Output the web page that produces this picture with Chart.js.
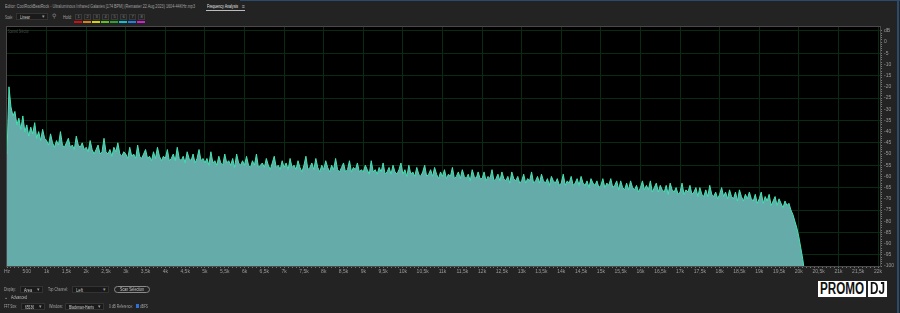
<!DOCTYPE html>
<html><head><meta charset="utf-8">
<script src="https://cdn.jsdelivr.net/npm/chart.js@4"></script>
<style>
html,body{margin:0;padding:0;background:#232323;width:900px;height:313px;overflow:hidden;font-family:"Liberation Sans",Arial,sans-serif;}
#c{position:absolute;left:0;top:0;}
.t{position:absolute;font-size:5px;color:#a0a0a0;white-space:nowrap;line-height:6px;transform-origin:0 50%;display:inline-block;}
.dd{position:absolute;height:7px;background:#1a1a1a;border:1px solid #333;box-sizing:border-box;}
.dd .a{position:absolute;right:2px;top:-1px;color:#999;font-size:5px;line-height:7px;}
.hb{position:absolute;top:14px;width:7px;height:6px;border:1px solid #3a3a3a;box-sizing:border-box;font-size:4px;color:#888;text-align:center;line-height:4px;}
.cb{position:absolute;top:21px;width:8px;height:2px;}
#topline{position:absolute;left:240px;top:0;width:660px;height:1px;background:#2c4a6c;}
#rightline{position:absolute;left:897px;top:0;width:2px;height:313px;background:#2c4a6c;}
.logo{position:absolute;top:281px;height:16px;background:#fff;overflow:hidden;}
.logo span{position:absolute;top:0;color:#111;font-weight:bold;font-size:16px;line-height:16px;white-space:nowrap;transform-origin:0 50%;display:inline-block;}
</style>
</head><body>
<div id="topline"></div><div id="rightline"></div>
<span class="t fit" data-w="190" style="left:5px;top:3px;">Editor: CoolRockBeatRock - Ultraluminous Infrared Galaxies [174 BPM] (Remaster 22 Aug 2023) 1604-44KHz.mp3</span>
<span class="t fit" data-w="31" style="left:207px;top:3px;color:#e6e6e6;">Frequency Analysis</span>
<span class="t" style="left:242px;top:3px;color:#bbb;">≡</span>
<div style="position:absolute;left:206px;top:10px;width:39px;height:1px;background:#bbb;"></div>
<span class="t fit" data-w="8" style="left:5px;top:14px;">Scale:</span>
<div class="dd" style="left:16px;top:13px;width:32px;"><span class="t fit" data-w="10" style="left:3px;top:0px;color:#ccc;">Linear</span><span class="a">&#9662;</span></div>
<span class="t" style="left:52px;top:13px;font-size:6px;color:#888;">&#9906;</span>
<span class="t fit" data-w="9" style="left:63px;top:14px;">Hold:</span>
<div class="hb" style="left:75px;">1</div><div class="hb" style="left:84px;">2</div><div class="hb" style="left:93px;">3</div><div class="hb" style="left:102px;">4</div>
<div class="hb" style="left:111px;">5</div><div class="hb" style="left:120px;">6</div><div class="hb" style="left:129px;">7</div><div class="hb" style="left:138px;">8</div>
<div class="cb" style="left:74px;background:#d01010;"></div><div class="cb" style="left:83px;background:#e08010;"></div><div class="cb" style="left:92px;background:#d8d010;"></div><div class="cb" style="left:101px;background:#60c020;"></div>
<div class="cb" style="left:110px;background:#30a030;"></div><div class="cb" style="left:119px;background:#10c0d0;"></div><div class="cb" style="left:128px;background:#2080e0;"></div><div class="cb" style="left:137px;background:#d020d0;"></div>

<canvas id="c" width="900" height="313"></canvas>

<span class="t fit" data-w="21" style="left:8px;top:28px;color:#4a4a4a;">Scanned Selection</span>

<span class="t fit" data-w="12" style="left:4px;top:286px;">Display:</span>
<div class="dd" style="left:20px;top:286px;width:23px;"><span class="t fit" data-w="8" style="left:3px;top:0;color:#ccc;">Area</span><span class="a">&#9662;</span></div>
<span class="t fit" data-w="20" style="left:48px;top:286px;">Top Channel:</span>
<div class="dd" style="left:72px;top:286px;width:37px;"><span class="t fit" data-w="7" style="left:3px;top:0;color:#ccc;">Left</span><span class="a">&#9662;</span></div>
<div style="position:absolute;left:114px;top:286px;width:36px;height:7px;border:1px solid #8a8a8a;border-radius:4px;box-sizing:border-box;"><span class="t fit" data-w="24" style="left:5px;top:0;color:#c8c8c8;line-height:5px;">Scan Selection</span></div>
<span class="t" style="left:4px;top:294px;color:#bbb;">&#8964;</span>
<span class="t fit" data-w="16" style="left:11px;top:294px;color:#bbb;">Advanced</span>
<span class="t fit" data-w="13" style="left:4px;top:303px;">FFT Size:</span>
<div class="dd" style="left:21px;top:303px;width:24px;"><span class="t fit" data-w="9" style="left:3px;top:0;color:#ccc;">65536</span><span class="a">&#9662;</span></div>
<span class="t fit" data-w="14" style="left:49px;top:303px;">Window:</span>
<div class="dd" style="left:65px;top:303px;width:39px;"><span class="t fit" data-w="25" style="left:3px;top:0;color:#ccc;">Blackman-Harris</span><span class="a">&#9662;</span></div>
<span class="t fit" data-w="24" style="left:109px;top:303px;">0 dB Reference:</span>
<div style="position:absolute;left:136px;top:304px;width:3px;height:4px;background:#3070d0;"></div>
<span class="t fit" data-w="8" style="left:140px;top:303px;">dBFS</span>

<div class="logo" style="left:818px;width:48px;"><span class="fit" data-w="44" style="left:2px;">PROMO</span></div>
<div class="logo" style="left:868px;width:19px;"><span class="fit" data-w="15" style="left:2px;">DJ</span></div>

<script>
// Frequencies (Hz) of the spectrum samples
const freqs = [
0,50,100,150,200,250,300,350,400,450,500,550,600,650,700,750,800,850,900,950,
1000,1050,1100,1150,1200,1250,1300,1350,1400,1450,1500,1550,1600,1650,1700,1750,1800,1850,1900,1950,
2000,2050,2100,2150,2200,2250,2300,2350,2400,2450,2500,2550,2600,2650,2700,2750,2800,2850,2900,2950,
3000,3050,3100,3150,3200,3250,3300,3350,3400,3450,3500,3550,3600,3650,3700,3750,3800,3850,3900,3950,
4000,4050,4100,4150,4200,4250,4300,4350,4400,4450,4500,4550,4600,4650,4700,4750,4800,4850,4900,4950,
5000,5050,5100,5150,5200,5250,5300,5350,5400,5450,5500,5550,5600,5650,5700,5750,5800,5850,5900,5950,
6000,6050,6100,6150,6200,6250,6300,6350,6400,6450,6500,6550,6600,6650,6700,6750,6800,6850,6900,6950,
7000,7050,7100,7150,7200,7250,7300,7350,7400,7450,7500,7550,7600,7650,7700,7750,7800,7850,7900,7950,
8000,8050,8100,8150,8200,8250,8300,8350,8400,8450,8500,8550,8600,8650,8700,8750,8800,8850,8900,8950,
9000,9050,9100,9150,9200,9250,9300,9350,9400,9450,9500,9550,9600,9650,9700,9750,9800,9850,9900,9950,
10000,10050,10100,10150,10200,10250,10300,10350,10400,10450,10500,10550,10600,10650,10700,10750,10800,10850,10900,10950,
11000,11050,11100,11150,11200,11250,11300,11350,11400,11450,11500,11550,11600,11650,11700,11750,11800,11850,11900,11950,
12000,12050,12100,12150,12200,12250,12300,12350,12400,12450,12500,12550,12600,12650,12700,12750,12800,12850,12900,12950,
13000,13050,13100,13150,13200,13250,13300,13350,13400,13450,13500,13550,13600,13650,13700,13750,13800,13850,13900,13950,
14000,14050,14100,14150,14200,14250,14300,14350,14400,14450,14500,14550,14600,14650,14700,14750,14800,14850,14900,14950,
15000,15050,15100,15150,15200,15250,15300,15350,15400,15450,15500,15550,15600,15650,15700,15750,15800,15850,15900,15950,
16000,16050,16100,16150,16200,16250,16300,16350,16400,16450,16500,16550,16600,16650,16700,16750,16800,16850,16900,16950,
17000,17050,17100,17150,17200,17250,17300,17350,17400,17450,17500,17550,17600,17650,17700,17750,17800,17850,17900,17950,
18000,18050,18100,18150,18200,18250,18300,18350,18400,18450,18500,18550,18600,18650,18700,18750,18800,18850,18900,18950,
19000,19050,19100,19150,19200,19250,19300,19350,19400,19450,19500,19550,19600,19650,19700,19750,19800,19850,19900,19950,
20000,20050,20100,20130];
// Level in dB at each frequency
const levels = [
-50,-20,-29,-33,-31,-37,-34,-39,-33,-40,-37,-42,-38,-41,-36,-43,-40,-44,-39,-43,
-44,-46,-41,-45,-47,-44,-46,-40,-46,-47,-45,-43,-47,-46,-48,-42,-46,-47,-45,-48,
-47,-49,-44,-48,-50,-48,-46,-50,-49,-43,-49,-50,-48,-51,-47,-49,-45,-50,-51,-49,
-50,-52,-47,-51,-50,-52,-46,-51,-52,-50,-48,-52,-51,-53,-49,-52,-47,-51,-53,-51,
-52,-48,-53,-52,-50,-53,-47,-52,-53,-51,-54,-49,-52,-53,-50,-54,-52,-48,-53,-52,
-54,-52,-55,-49,-54,-53,-55,-51,-54,-55,-50,-54,-53,-55,-52,-56,-50,-54,-55,-53,
-55,-51,-55,-56,-53,-55,-50,-56,-55,-54,-56,-52,-55,-57,-54,-51,-56,-55,-57,-53,
-56,-54,-57,-52,-56,-55,-57,-53,-56,-58,-55,-51,-57,-56,-54,-57,-52,-56,-58,-55,
-57,-53,-56,-58,-55,-57,-52,-57,-58,-56,-54,-58,-57,-53,-58,-56,-57,-54,-58,-57,
-58,-55,-57,-59,-53,-58,-57,-59,-56,-58,-54,-59,-58,-56,-59,-55,-58,-59,-57,-54,
-59,-57,-60,-55,-59,-58,-60,-56,-59,-60,-58,-55,-60,-59,-57,-60,-56,-59,-61,-58,
-60,-57,-61,-59,-60,-56,-61,-60,-58,-61,-57,-60,-61,-59,-62,-57,-60,-61,-58,-61,
-61,-58,-62,-60,-61,-57,-62,-61,-59,-62,-58,-61,-62,-60,-63,-58,-61,-62,-60,-63,
-62,-59,-63,-61,-62,-58,-63,-62,-60,-63,-59,-62,-63,-61,-64,-60,-62,-63,-61,-64,
-63,-59,-64,-62,-63,-60,-64,-63,-61,-64,-60,-63,-64,-62,-65,-61,-63,-64,-62,-65,
-64,-61,-65,-63,-64,-61,-65,-64,-62,-66,-62,-65,-66,-63,-66,-62,-65,-66,-64,-67,
-65,-62,-66,-64,-66,-62,-67,-65,-63,-67,-64,-66,-67,-64,-68,-63,-66,-67,-65,-68,
-67,-63,-68,-66,-67,-64,-68,-67,-65,-69,-65,-68,-69,-66,-69,-64,-68,-69,-67,-70,
-68,-65,-69,-67,-70,-66,-69,-70,-67,-71,-66,-69,-71,-68,-70,-67,-70,-71,-68,-72,
-70,-67,-72,-69,-71,-68,-73,-71,-69,-73,-70,-72,-74,-71,-73,-72,-75,-77,-80,-83,
-87,-92,-97,-101];
// Tick labels every 500 Hz (x) and every 5 dB (y, from +5 down to -100)
const xTickLabels = ['Hz','500','1k','1,5k','2k','2,5k','3k','3,5k','4k','4,5k','5k','5,5k','6k','6,5k','7k','7,5k','8k','8,5k','9k','9,5k','10k','10,5k','11k','11,5k','12k','12,5k','13k','13,5k','14k','14,5k','15k','15,5k','16k','16,5k','17k','17,5k','18k','18,5k','19k','19,5k','20k','20,5k','21k','21,5k','22k'];
const yTickLabels = ['dB','0','-5','-10','-15','-20','-25','-30','-35','-40','-45','-50','-55','-60','-65','-70','-75','-80','-85','-90','-95','-100'];

// squeeze UI labels to the widths they occupy in the original panel
document.querySelectorAll('.fit').forEach(el=>{
  const w = el.getBoundingClientRect().width;
  const target = parseFloat(el.dataset.w);
  if (w > 0) el.style.transform = 'scaleX(' + (target / w) + ')';
});

const GRID = '#0b2a12';
const bgPlugin = {
  id:'bg',
  beforeDraw(chart){
    const a = chart.chartArea, c = chart.ctx;
    c.save(); c.fillStyle = '#000'; c.fillRect(a.left, a.top, a.right-a.left, a.bottom-a.top); c.restore();
  },
  afterDraw(chart){
    const a = chart.chartArea, c = chart.ctx;
    c.save(); c.strokeStyle = '#4a4a4a'; c.lineWidth = 1;
    c.strokeRect(a.left-0.5, a.top-0.5, a.right-a.left+1, a.bottom-a.top+1); c.restore();
  }
};

new Chart(document.getElementById('c'), {
  type:'line',
  data:{
    datasets:[{
      data: freqs.map((f,i)=>({x:f, y:levels[i]})),
      borderColor:'#46e2b2',
      borderWidth:1,
      backgroundColor:'#65abaa',
      fill:'start',
      pointRadius:0,
      tension:0
    }]
  },
  options:{
    responsive:false,
    animation:false,
    devicePixelRatio:1,
    layout:{padding:{left:7, top:27, right:2, bottom:35}},
    plugins:{legend:{display:false}, tooltip:{enabled:false}},
    scales:{
      x:{
        type:'linear', min:0, max:22050,
        afterBuildTicks(s){ const t=[]; for(let v=0; v<=22000; v+=100) t.push({value:v}); s.ticks=t; },
        afterFit(s){ s.height = 12; },
        ticks:{
          autoSkip:false, maxRotation:0, minRotation:0, padding:1,
          color:'#9a9a9a', font:{family:'Liberation Sans', size:5},
          callback(v){ return v%500===0 ? xTickLabels[v/500] : ''; }
        },
        grid:{
          color(ctx){ const v = ctx.tick && ctx.tick.value; return (v>0 && v%1000===0) ? GRID : 'rgba(0,0,0,0)'; },
          tickColor:'#777', tickLength:2, lineWidth:1
        },
        border:{display:true, color:'#555'}
      },
      y:{
        position:'right', min:-100, max:6.7,
        afterBuildTicks(s){ const t=[]; for(let v=5; v>=-100; v-=1) t.push({value:v}); s.ticks=t; },
        afterFit(s){ s.width = 18; },
        ticks:{
          autoSkip:false, padding:2,
          color:'#9a9a9a', font:{family:'Liberation Sans', size:5},
          callback(v){ return v%5===0 ? yTickLabels[(5-v)/5] : ''; }
        },
        grid:{
          color(ctx){ const v = ctx.tick && ctx.tick.value; return (Math.abs(v)%10===5) ? GRID : 'rgba(0,0,0,0)'; },
          tickColor:'#777', tickLength:2, lineWidth:1
        },
        border:{display:true, color:'#555'}
      }
    }
  },
  plugins:[bgPlugin]
});
</script>
</body></html>
